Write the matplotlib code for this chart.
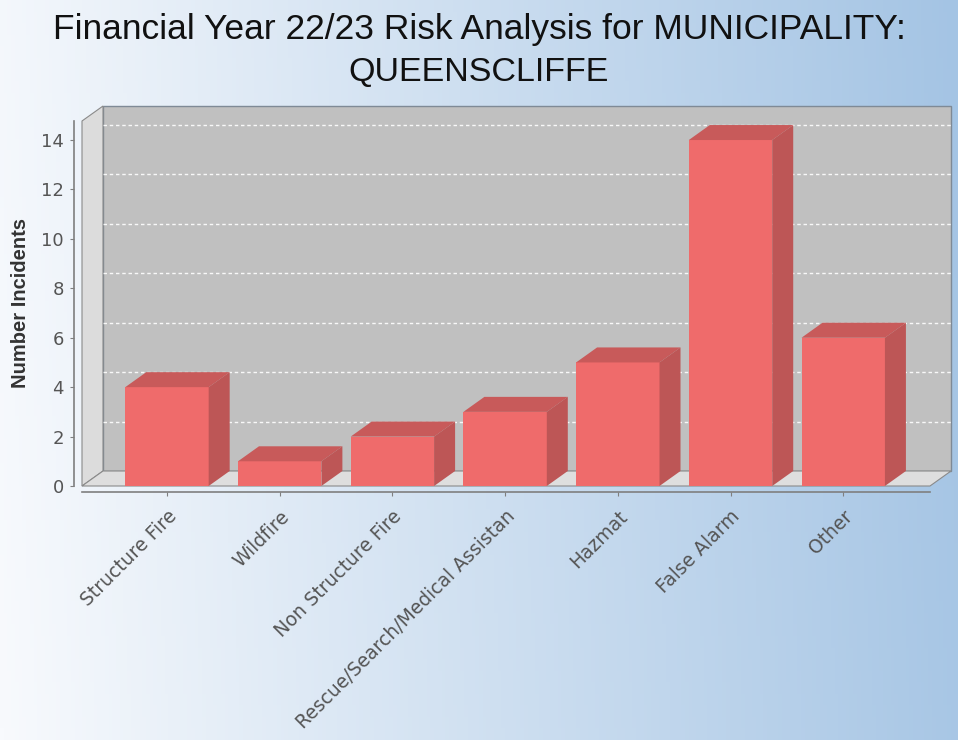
import numpy as np
import matplotlib
matplotlib.use("Agg")
import matplotlib.pyplot as plt
from matplotlib.patches import Polygon

categories = ["Structure Fire", "Wildfire", "Non Structure Fire",
              "Rescue/Search/Medical Assistan", "Hazmat", "False Alarm", "Other"]
incidents = [4, 1, 2, 3, 5, 14, 6]
y_ticks = [0, 2, 4, 6, 8, 10, 12, 14]

W, H = 958, 740
DX, DY = 21, 15          # 3D depth offset in pixels
BAR_W = 0.74

fig = plt.figure(figsize=(W / 100, H / 100), dpi=100)

# background gradient (white -> light blue)
bg = fig.add_axes([0, 0, 1, 1], zorder=-10)
gx = np.linspace(0, 1, 256)
gy = np.linspace(0, 1, 64)
GX, GY = np.meshgrid(gx, gy)
left = np.array([248, 250, 253]) / 255
right = np.array([164, 196, 228]) / 255
t = np.clip(GX * 0.95 + GY * 0.05, 0, 1)[..., None]
img = left * (1 - t) + right * t
bg.imshow(img, aspect="auto", extent=[0, 1, 0, 1], origin="lower")
bg.set_axis_off()

# plot area (front face)
x0px, x1px, y0px, y1px = 82, 930, 486, 121
ax = fig.add_axes([x0px / W, (H - y0px) / H, (x1px - x0px) / W, (y0px - y1px) / H])
xlo, xhi = -0.754, 6.77
ymax = 14.77
ax.set_xlim(xlo, xhi)
ax.set_ylim(0, ymax)
ax.set_facecolor("none")

dxu = DX * (xhi - xlo) / (x1px - x0px)
dyu = DY * ymax / (y0px - y1px)

# back wall
back = Polygon([(xlo + dxu, dyu), (xhi + dxu, dyu), (xhi + dxu, ymax + dyu), (xlo + dxu, ymax + dyu)],
               closed=True, facecolor="#c0c0c0", edgecolor="#7f8a96", lw=1.0, clip_on=False, zorder=1)
ax.add_patch(back)
# left wall
lwall = Polygon([(xlo, 0), (xlo + dxu, dyu), (xlo + dxu, ymax + dyu), (xlo, ymax)],
                closed=True, facecolor="#dcdcdc", edgecolor="#8a8a8a", lw=0.8, clip_on=False, zorder=1)
ax.add_patch(lwall)
# floor
floor = Polygon([(xlo, 0), (xhi, 0), (xhi + dxu, dyu), (xlo + dxu, dyu)],
                closed=True, facecolor="#dedede", edgecolor="#8a8a8a", lw=0.8, clip_on=False, zorder=1)
ax.add_patch(floor)

# gridlines on back wall
for yv in y_ticks[1:]:
    ax.plot([xlo + dxu, xhi + dxu], [yv + dyu, yv + dyu], color="white", lw=1.0,
            ls=(0, (2.5, 2)), alpha=0.9, clip_on=False, zorder=2)

# 3D bars
front_c, top_c, side_c = "#ef6b6b", "#c85a5a", "#bd5656"
for i, v in enumerate(incidents):
    a, b = i - BAR_W / 2, i + BAR_W / 2
    ax.bar(i, v, width=BAR_W, color=front_c, edgecolor="none", zorder=4)
    ax.add_patch(Polygon([(a, v), (b, v), (b + dxu, v + dyu), (a + dxu, v + dyu)],
                         closed=True, facecolor=top_c, edgecolor="none", clip_on=False, zorder=4))
    ax.add_patch(Polygon([(b, 0), (b, v), (b + dxu, v + dyu), (b + dxu, dyu)],
                         closed=True, facecolor=side_c, edgecolor="none", clip_on=False, zorder=4))

# axes styling
for s in ["top", "right"]:
    ax.spines[s].set_visible(False)
ax.spines["left"].set_position(("outward", 6))
ax.spines["bottom"].set_position(("outward", 4))
for s in ["left", "bottom"]:
    ax.spines[s].set_color("#7f7f7f")
    ax.spines[s].set_linewidth(1.2)

ax.set_yticks(y_ticks)
ax.set_yticklabels([str(v) for v in y_ticks])
ax.set_xticks(range(len(categories)))
ax.set_xticklabels(categories, rotation=45, ha="right", va="top", rotation_mode="anchor")
ax.tick_params(axis="y", colors="#7f7f7f", labelcolor="#555555", labelsize=13, length=3, pad=4)
ax.tick_params(axis="x", colors="#7f7f7f", labelcolor="#555555", labelsize=13.5, length=3, pad=8)

ax.set_ylabel("Number Incidents", fontsize=14.5, fontweight="bold", color="#333333",
              family="Liberation Sans", labelpad=8)

fig.text(0.5, 1 - 39 / H, "Financial Year 22/23 Risk Analysis for MUNICIPALITY:",
         ha="center", va="baseline", fontsize=25.5, family="Liberation Sans", color="#111111")
fig.text(0.5, 1 - 81 / H, "QUEENSCLIFFE",
         ha="center", va="baseline", fontsize=24.5, family="Liberation Sans", color="#111111")

fig.savefig("out.png", dpi=100)
